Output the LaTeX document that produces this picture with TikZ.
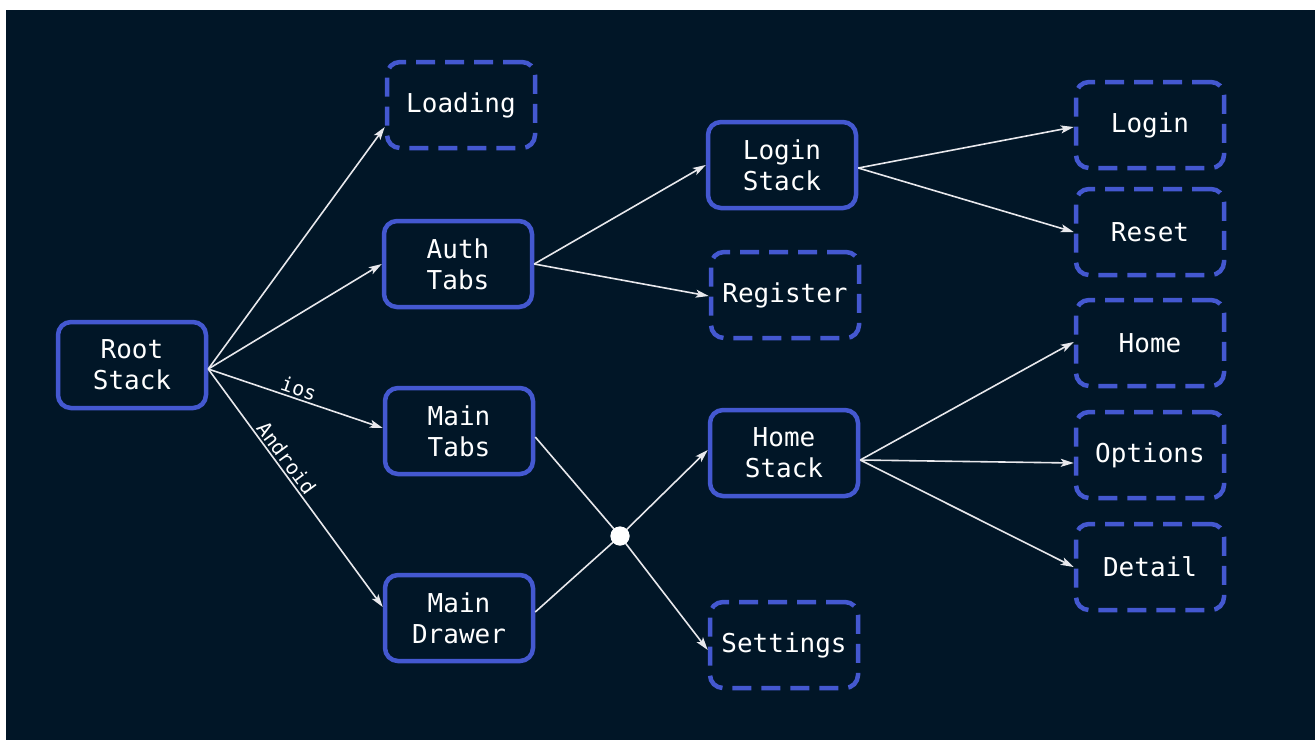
\documentclass[tikz,border=0pt]{standalone}
\usepackage{fontspec}
\setmonofont{DejaVu Sans Mono}
\usetikzlibrary{arrows.meta}
\definecolor{bgdark}{RGB}{1,22,39}
\definecolor{boxblue}{RGB}{68,88,208}
\definecolor{linegray}{RGB}{232,232,236}
\tikzset{
  box/.style={draw=boxblue, line width=4.5pt, rounded corners=13pt, fill=bgdark,
    minimum width=148pt, minimum height=86pt, inner sep=0pt,
    align=center, text=white, font=\ttfamily\fontsize{26}{31}\selectfont},
  dbox/.style={box, dash pattern=on 19pt off 10pt},
  conn/.style={draw=linegray, line width=1.6pt, -{Stealth[length=13pt,width=8pt,inset=3pt]}},
  plain/.style={draw=linegray, line width=1.6pt},
  lbl/.style={text=white, font=\ttfamily\fontsize{20}{22}\selectfont, sloped, above, inner sep=2pt},
  dot/.style={circle, fill=white, minimum size=19pt, inner sep=0pt}
}
\begin{document}
\begin{tikzpicture}[x=1pt,y=-1pt]
\useasboundingbox (0,0) rectangle (1315,740);
\fill[white] (0,0) rectangle (1315,740);
\fill[bgdark] (6,10) rectangle (1315,740);

\node[box]  (root)    at (132,365) {Root\\Stack};
\node[dbox] (loading) at (461,105) {Loading};
\node[box]  (auth)    at (458,264) {Auth\\Tabs};
\node[box]  (mtabs)   at (459,431) {Main\\Tabs};
\node[box]  (mdrawer) at (459,618) {Main\\Drawer};
\node[box]  (lstack)  at (782,165) {Login\\Stack};
\node[dbox] (register) at (785,295) {Register};
\node[box]  (hstack)  at (784,453) {Home\\Stack};
\node[dbox] (settings) at (784,645) {Settings};
\node[dbox] (login)   at (1150,125) {Login};
\node[dbox] (reset)   at (1150,232) {Reset};
\node[dbox] (home)    at (1150,343) {Home};
\node[dbox] (options) at (1150,455) {Options};
\node[dbox] (detail)  at (1150,567) {Detail};

\coordinate (rs) at ([yshift=-4pt]root.east);
\draw[conn] (rs) -- ([yshift=-22pt]loading.west);
\draw[conn] (rs) -- (auth.west);
\draw[conn] (rs) -- node[lbl, pos=0.5] {ios} ([yshift=3pt]mtabs.west);
\draw[conn] (rs) -- node[lbl, pos=0.40] {Android} ([yshift=11pt]mdrawer.west);

\draw[conn] (auth.east) -- (lstack.west);
\draw[conn] (auth.east) -- ([yshift=-1pt]register.west);

\node[dot] (j) at (620,536) {};
\draw[plain] ([yshift=-6pt]mtabs.east) -- (j.center);
\draw[plain] ([yshift=6pt]mdrawer.east) -- (j.center);
\draw[conn] (j.center) -- ([yshift=3pt]hstack.west);
\draw[conn] (j.center) -- ([yshift=-5pt]settings.west);
\node[dot] at (j) {};

\coordinate (ls) at ([yshift=-3pt]lstack.east);
\draw[conn] (ls) -- ([yshift=-2pt]login.west);
\draw[conn] (ls) -- (reset.west);

\coordinate (hs) at ([yshift=-7pt]hstack.east);
\draw[conn] (hs) -- ([yshift=1pt]home.west);
\draw[conn] (hs) -- ([yshift=-8pt]options.west);
\draw[conn] (hs) -- (detail.west);
\end{tikzpicture}
\end{document}
